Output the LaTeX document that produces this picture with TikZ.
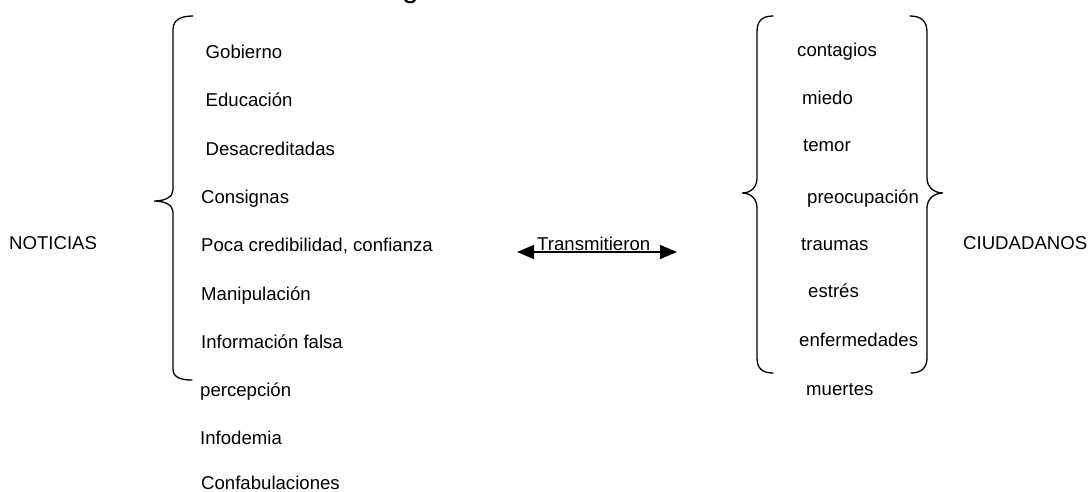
\documentclass[tikz,border=0pt]{standalone}
\usepackage{fontspec}
\setmainfont{Liberation Sans}
\usetikzlibrary{arrows.meta}
\begin{document}
\begin{tikzpicture}[x=1pt,y=-1pt,
  lbl/.style={anchor=base west,inner sep=0pt,font=\fontsize{18.6}{22}\selectfont},
  brace/.style={line width=1.3pt,line cap=round},
  biarrow/.style={line width=1.3pt,{Triangle[length=17pt,width=14pt]}-{Triangle[length=17pt,width=14pt]}}]
\useasboundingbox (0,0) rectangle (1089,491);
% partially visible title letter (only its descender shows)
\begin{scope}
\clip (0,0) rectangle (1089,491);
\node[anchor=base west,inner sep=0pt,font=\fontsize{30}{34}\selectfont] (title) at (402,-2.3) {g};
\end{scope}
% left group
\node[lbl] (noticias) at (9,249.3) {NOTICIAS};
\node[lbl] (n1) at (205.5,58) {Gobierno};
\node[lbl] (n2) at (205.5,106.5) {Educación};
\node[lbl] (n3) at (205.5,155) {Desacreditadas};
\node[lbl] (n4) at (201,203) {Consignas};
\node[lbl] (n5) at (201,251.5) {Poca credibilidad, confianza};
\node[lbl] (n6) at (201,300) {Manipulación};
\node[lbl] (n7) at (201,348) {Información falsa};
\node[lbl] (n8) at (200,396.5) {percepción};
\node[lbl] (n9) at (200,444) {Infodemia};
\node[lbl] (n10) at (201,489) {Confabulaciones};
\draw[brace] (193,16) .. controls (180,16) and (173,20) .. (173,30) -- (173,190)
  .. controls (173,197) and (165,201) .. (154,201)
  .. controls (165,201) and (173,205) .. (173,212) -- (173,369)
  .. controls (173,377) and (180,380) .. (192,380);
% right group
\node[lbl] (ciudadanos) at (963,249.3) {CIUDADANOS};
\node[lbl] (c1) at (797,56) {contagios};
\node[lbl] (c2) at (802,104) {miedo};
\node[lbl] (c3) at (803,151.7) {temor};
\node[lbl] (c4) at (807,203) {preocupación};
\node[lbl] (c5) at (801,250) {traumas};
\node[lbl] (c6) at (808,297.7) {estrés};
\node[lbl] (c7) at (799,346) {enfermedades};
\node[lbl] (c8) at (806,395) {muertes};
\draw[brace] (773,16) .. controls (762,16) and (757,21) .. (757,32) -- (757,178)
  .. controls (757,187) and (751,193) .. (742,193)
  .. controls (751,193) and (757,199) .. (757,208) -- (757,358)
  .. controls (757,368) and (762,373) .. (773,373);
\draw[brace] (910,16) .. controls (921,16) and (927,21) .. (927,32) -- (927,178)
  .. controls (927,187) and (934,193) .. (943,193)
  .. controls (934,193) and (927,199) .. (927,208) -- (927,358)
  .. controls (927,368) and (921,373) .. (911,373);
% arrow
\coordinate (aL) at (517,252);
\coordinate (aR) at (677,252);
\draw[biarrow] (aL) -- (aR);
\node[lbl] (trans) at (537,250.7) {Transmitieron};
\end{tikzpicture}
\end{document}
